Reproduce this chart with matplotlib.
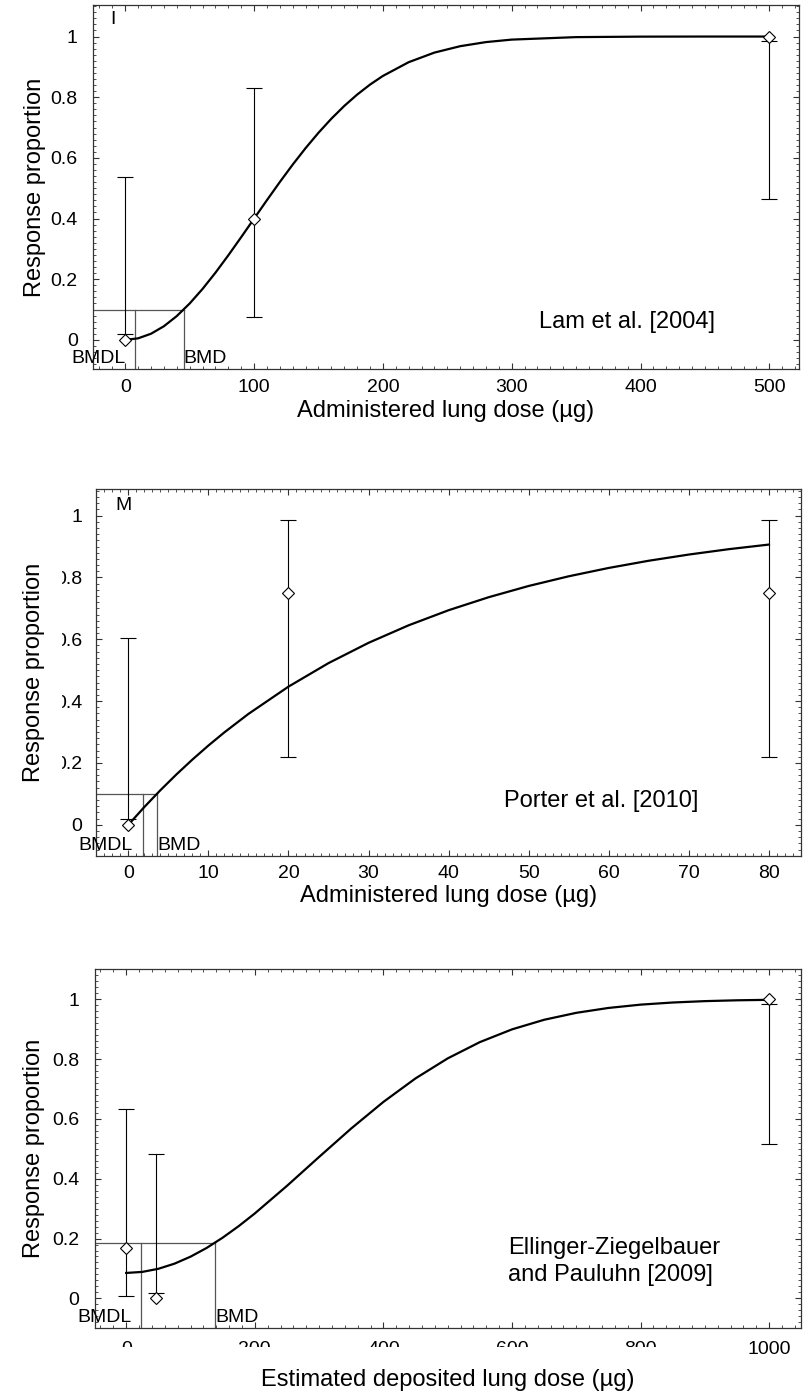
import matplotlib
matplotlib.use("Agg")
import matplotlib.pyplot as plt
from matplotlib.ticker import MultipleLocator, FuncFormatter
from matplotlib.patches import Rectangle

plt.rcParams['font.family'] = ['Liberation Sans', 'DejaVu Sans']

W, H = 807, 1395

# ---- Lam et al. [2004]
lam_dose = [0, 100, 500]
lam_resp = [0.0, 0.40, 1.0]
lam_lo = [0.02, 0.074, 0.465]
lam_hi = [0.537, 0.83, 0.984]
lam_fit_x = [0, 10, 20, 30, 40, 50, 60, 70, 80, 90, 100, 110, 120, 130, 140, 150, 160,
             170, 180, 190, 200, 220, 240, 260, 280, 300, 350, 400, 450, 500]
lam_fit_y = [0.0, 0.0051, 0.0202, 0.0449, 0.0784, 0.1198, 0.1678, 0.2212, 0.2786, 0.3385,
             0.3996, 0.4606, 0.5203, 0.5778, 0.6321, 0.6827, 0.7291, 0.7711, 0.8085, 0.8415,
             0.8701, 0.9154, 0.9471, 0.9682, 0.9817, 0.9899, 0.9981, 0.9997, 1.0, 1.0]
lam_bmdl, lam_bmd, lam_bmr = 7.8, 45.5, 0.1

# ---- Porter et al. [2010]
por_dose = [0, 20, 80]
por_resp = [0.0, 0.75, 0.75]
por_lo = [0.02, 0.219, 0.219]
por_hi = [0.603, 0.986, 0.986]
por_fit_x = [0, 2, 4, 6, 8, 10, 12, 15, 20, 25, 30, 35, 40, 45, 50, 55, 60, 65, 70, 75, 80]
por_fit_y = [0.0, 0.0575, 0.1117, 0.1627, 0.2109, 0.2563, 0.2990, 0.3586, 0.4468, 0.5229,
             0.5885, 0.6451, 0.6940, 0.7360, 0.7724, 0.8037, 0.8307, 0.8540, 0.8740, 0.8914,
             0.9063]
por_bmdl, por_bmd, por_bmr = 1.8, 3.6, 0.1

# ---- Ellinger-Ziegelbauer and Pauluhn [2009]
ell_dose = [0, 47, 1000]
ell_resp = [0.167, 0.0, 1.0]
ell_lo = [0.009, 0.017, 0.516]
ell_hi = [0.634, 0.484, 0.984]
ell_fit_x = [0, 25, 50, 75, 100, 125, 150, 175, 200, 250, 300, 350, 400, 450, 500, 550,
             600, 650, 700, 750, 800, 850, 900, 950, 1000]
ell_fit_y = [0.085, 0.0885, 0.0989, 0.1160, 0.1394, 0.1685, 0.2029, 0.2416, 0.2839, 0.3761,
             0.4728, 0.5680, 0.6567, 0.7354, 0.8022, 0.8566, 0.8992, 0.9313, 0.9545, 0.9708,
             0.9819, 0.9890, 0.9936, 0.9964, 0.9980]
ell_bmdl, ell_bmd, ell_bmr = 23.3, 138, 0.184

panels = [
    dict(box=(93, 5, 799, 369), xlim=(-25, 523), ylim=(-0.096, 1.104), major=100, minor=10,
         dose=lam_dose, resp=lam_resp, lo=lam_lo, hi=lam_hi, fx=lam_fit_x, fy=lam_fit_y,
         bmdl=lam_bmdl, bmd=lam_bmd, bmr=lam_bmr, xlabel="Administered lung dose (µg)",
         note="Lam et al. [2004]", note_xy=(0.757, 0.13), note_ha='center',
         tag="I", tag_xy=(0.028, 0.96), ypad=11, ylabelpad=3, xpad=7, xlabelpad=3),
    dict(box=(96.3, 489.3, 801, 855.7), xlim=(-4, 84), ylim=(-0.100, 1.085), major=10, minor=1,
         dose=por_dose, resp=por_resp, lo=por_lo, hi=por_hi, fx=por_fit_x, fy=por_fit_y,
         bmdl=por_bmdl, bmd=por_bmd, bmr=por_bmr, xlabel="Administered lung dose (µg)",
         note="Porter et al. [2010]", note_xy=(0.716, 0.15), note_ha='center',
         tag="M", tag_xy=(0.038, 0.957), ypad=10, ylabelpad=7, xpad=7, xlabelpad=2),
    dict(box=(94.7, 969.3, 800.7, 1328.3), xlim=(-49, 1049), ylim=(-0.1, 1.1), major=200, minor=20,
         dose=ell_dose, resp=ell_resp, lo=ell_lo, hi=ell_hi, fx=ell_fit_x, fy=ell_fit_y,
         bmdl=ell_bmdl, bmd=ell_bmd, bmr=ell_bmr, xlabel="Estimated deposited lung dose (µg)",
         note="Ellinger-Ziegelbauer\nand Pauluhn [2009]", note_xy=(0.585, 0.185), note_ha='left',
         tag=None, tag_xy=None, ypad=11, ylabelpad=5, xpad=9, xlabelpad=8),
]

fig = plt.figure(figsize=(W / 100, H / 100), dpi=100)

for p in panels:
    l, t, r, b = p['box']
    ax = fig.add_axes([l / W, 1 - b / H, (r - l) / W, (b - t) / H])
    ax.set_xlim(*p['xlim'])
    ax.set_ylim(*p['ylim'])

    # BMD / BMDL guide lines
    x0 = p['xlim'][0]
    y0 = p['ylim'][0]
    ax.plot([x0, p['bmd']], [p['bmr'], p['bmr']], color='#555555', lw=0.9, zorder=2)
    ax.plot([p['bmdl'], p['bmdl']], [y0, p['bmr']], color='#555555', lw=0.9, zorder=2)
    ax.plot([p['bmd'], p['bmd']], [y0, p['bmr']], color='#555555', lw=0.9, zorder=2)

    # fitted curve
    ax.plot(p['fx'], p['fy'], color='black', lw=1.6, zorder=3)

    # confidence bars and observed proportions
    mid = [(a + c) / 2 for a, c in zip(p['lo'], p['hi'])]
    half = [(c - a) / 2 for a, c in zip(p['lo'], p['hi'])]
    ax.errorbar(p['dose'], mid, yerr=half, fmt='none', ecolor='black', elinewidth=0.8,
                capsize=5.5, capthick=0.8, zorder=4)
    ax.plot(p['dose'], p['resp'], linestyle='none', marker='D', markersize=6.3,
            markerfacecolor='white', markeredgecolor='black', markeredgewidth=0.8, zorder=5)

    ax.annotate("BMDL", xy=(p['bmdl'], y0), xytext=(-7, 1.5), textcoords='offset points',
                ha='right', va='bottom', fontsize=14)
    ax.annotate("BMD", xy=(p['bmd'], y0), xytext=(0, 1.5), textcoords='offset points',
                ha='left', va='bottom', fontsize=14)

    ax.text(p['note_xy'][0], p['note_xy'][1], p['note'], transform=ax.transAxes,
            ha=p['note_ha'], va='center', fontsize=17, linespacing=1.3)
    if p['tag']:
        ax.text(p['tag_xy'][0], p['tag_xy'][1], p['tag'], transform=ax.transAxes,
                ha='center', va='center', fontsize=14)

    ax.xaxis.set_major_locator(MultipleLocator(p['major']))
    ax.xaxis.set_minor_locator(MultipleLocator(p['minor']))
    ax.yaxis.set_major_locator(MultipleLocator(0.2))
    ax.yaxis.set_minor_locator(MultipleLocator(0.02))
    ax.yaxis.set_major_formatter(FuncFormatter(lambda v, pos: "%g" % round(v, 2)))
    ax.tick_params(which='both', direction='in', top=True, right=True, colors='#333333',
                   labelcolor='black', labelsize=14)
    ax.tick_params(which='major', length=4.5, width=0.8)
    ax.tick_params(which='minor', length=2.2, width=0.6)
    ax.tick_params(axis='x', pad=p['xpad'])
    ax.tick_params(axis='y', pad=p['ypad'])
    for s in ax.spines.values():
        s.set_color('#333333')
        s.set_linewidth(0.9)

    ax.set_xlabel(p['xlabel'], fontsize=17, labelpad=p['xlabelpad'])
    ax.set_ylabel("Response proportion", fontsize=17, labelpad=p['ylabelpad'])

# the source image has parts of some tick labels cut away
fig.patches.append(Rectangle((47 / W, 1 - 785 / H), 15 / W, 225 / H, transform=fig.transFigure,
                             facecolor='white', edgecolor='none', zorder=10))
fig.patches.append(Rectangle((90 / W, 1 - 1359 / H), 600 / W, 12 / H, transform=fig.transFigure,
                             facecolor='white', edgecolor='none', zorder=10))

plt.savefig("out.png", dpi=100)
